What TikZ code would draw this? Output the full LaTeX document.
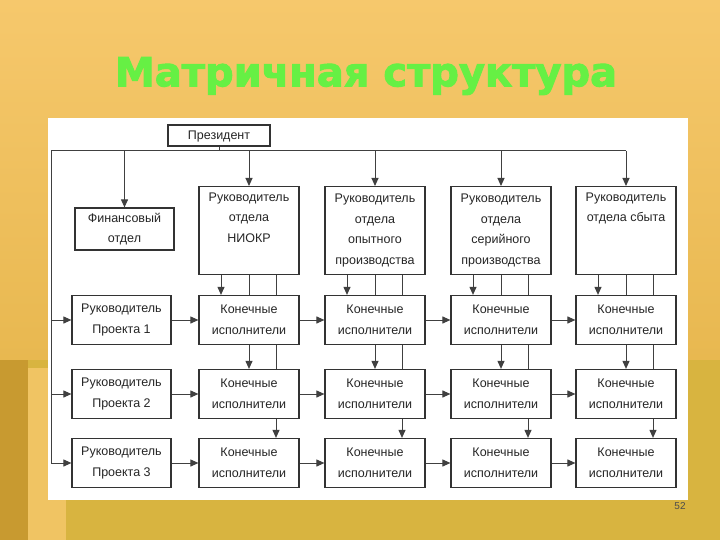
\documentclass[tikz,border=0pt]{standalone}
\usepackage{fontspec}
\setmainfont{Liberation Sans}
\newfontfamily\titlefont[FakeBold=2.5]{DejaVu Sans Bold}
\usetikzlibrary{arrows.meta,calc}
\definecolor{bgtop}{HTML}{F6C86C}
\definecolor{bgmid}{HTML}{E8B850}
\definecolor{bglow}{HTML}{D8B440}
\definecolor{strip}{HTML}{C89A30}
\definecolor{titleg}{HTML}{66F044}
\begin{document}
\begin{tikzpicture}[x=1pt,y=-1pt,
  bx/.style={draw=black!80,line width=1.2pt,fill=white,inner sep=0pt,align=center,font=\fontsize{12.5}{20.5}\selectfont,text=black!85},
  ar/.style={-{Triangle[length=8pt,width=7pt]},line width=1pt,black!75},
  ln/.style={line width=1pt,black!75}]
\useasboundingbox (0,0) rectangle (720,540);
\shade[top color=bgtop, bottom color=bgmid] (0,0) rectangle (720,360);
\fill[bglow] (0,360) rectangle (720,540);
\fill[strip] (0,360) rectangle (28,540);
\fill[bgtop!80!bglow] (28,368) rectangle (66,540);
\fill[white] (48,118) rectangle (688,500);
\node[font=\titlefont\fontsize{40}{42}\selectfont,text=titleg] (title) at (366,76) {Матричная структура};
\node[font=\fontsize{10}{12}\selectfont,text=black!70] (pg) at (680,506) {52};
% nodes
\node[bx,line width=2pt,minimum width=102,minimum height=21] (pres) at (219,136) {Президент};
\node[bx,minimum width=99,minimum height=42] (fin) at (124.5,229) {Финансовый\\отдел};
\node[bx,minimum width=100,minimum height=88,anchor=north] (d1) at (249,186) {Руководитель\\отдела\\НИОКР\\\strut};
\node[bx,minimum width=100,minimum height=88,anchor=north] (d2) at (375,186) {Руководитель\\отдела\\опытного\\производства};
\node[bx,minimum width=100,minimum height=88,anchor=north] (d3) at (501,186) {Руководитель\\отдела\\серийного\\производства};
\node[bx,minimum width=100,minimum height=88,anchor=north] (d4) at (626,186) {Руководитель\\отдела сбыта\\\strut\\\strut};
\foreach \r/\y in {1/320,2/394,3/463}{
  \node[bx,minimum width=99,minimum height=49] (p\r) at (121.5,\y) {Руководитель\\Проекта \r};
  \foreach \c/\x in {1/249,2/375,3/501,4/626}
    \node[bx,minimum width=100,minimum height=49] (e\r\c) at (\x,\y) {Конечные\\исполнители};
}
\coordinate (bl) at (51,151);
\coordinate (br) at (626,151);
\coordinate (bot) at (51,463);
\draw[ln] (pres.south) -- (pres.south|-bl);
\draw[ln] (bot) -- (bl) -- (br);
\draw[ar] (fin.north|-bl) -- (fin.north);
\foreach \c in {1,2,3,4}{
  \draw[ar] (d\c.north|-bl) -- (d\c.north);
  \draw[ar] ([xshift=-28]d\c.south) -- ([xshift=-28]e1\c.north);
  \draw[ln] (d\c.south) -- (e1\c.north);
  \draw[ln] ([xshift=27]d\c.south) -- ([xshift=27]e1\c.north);
  \draw[ar] (e1\c.south) -- (e2\c.north);
  \draw[ln] ([xshift=27]e1\c.south) -- ([xshift=27]e2\c.north);
  \draw[ar] ([xshift=27]e2\c.south) -- ([xshift=27]e3\c.north);
}
\foreach \r in {1,2,3}{
  \draw[ar] (bl|-p\r.west) -- (p\r.west);
  \draw[ar] (p\r) -- (e\r1);
  \draw[ar] (e\r1) -- (e\r2);
  \draw[ar] (e\r2) -- (e\r3);
  \draw[ar] (e\r3) -- (e\r4);
}
\end{tikzpicture}
\end{document}
